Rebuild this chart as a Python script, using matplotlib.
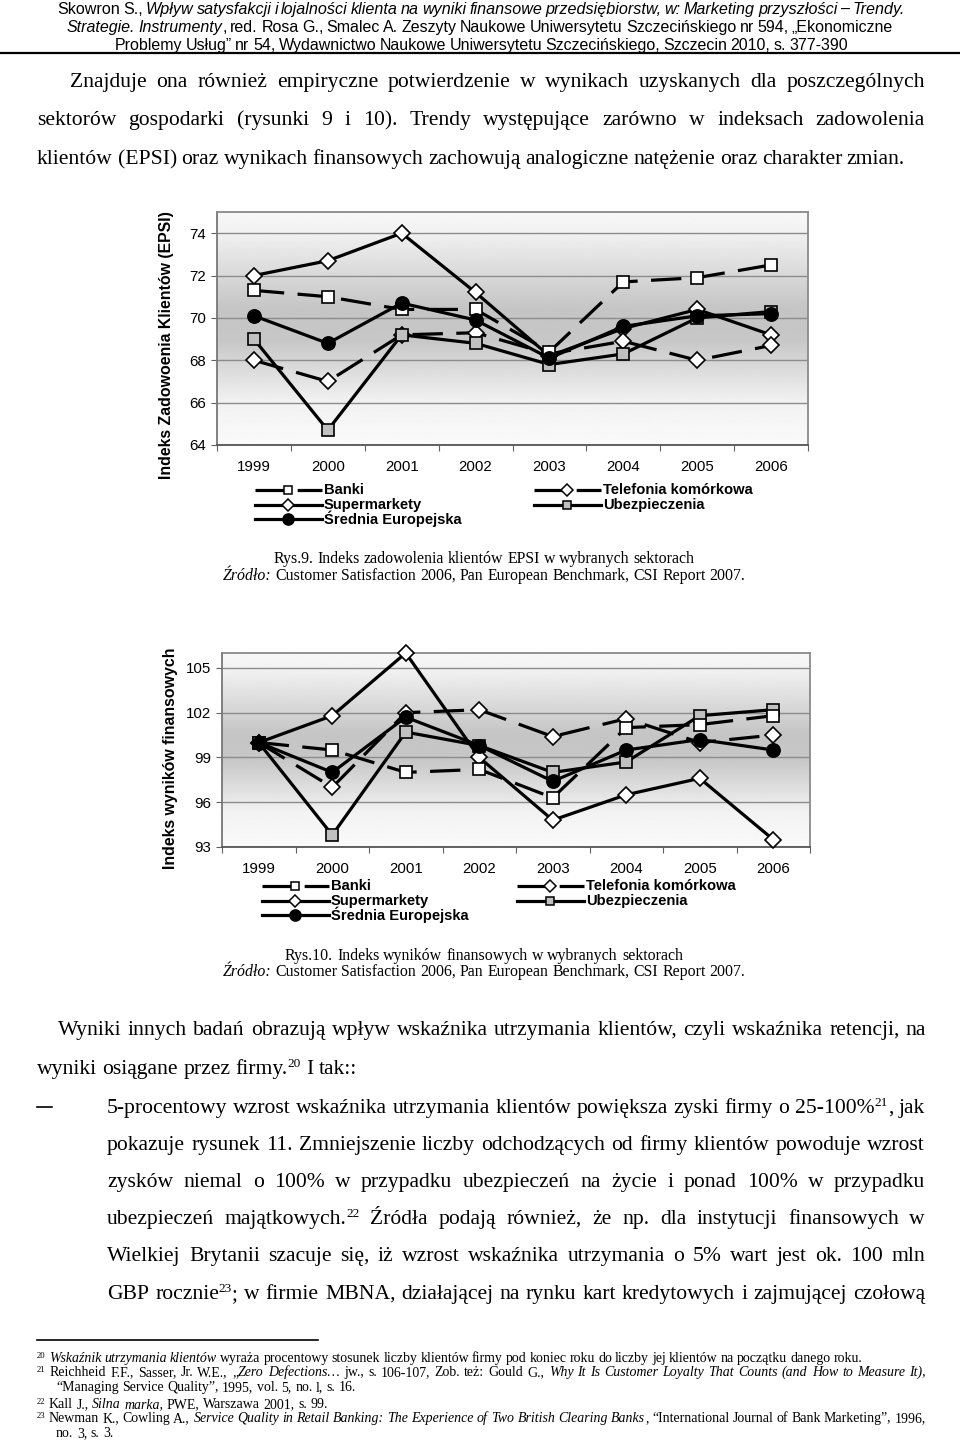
import re
import matplotlib
matplotlib.use('Agg')
import matplotlib.pyplot as plt
from matplotlib.lines import Line2D
import numpy as np

W, H = 960, 1448

years = ['1999', '2000', '2001', '2002', '2003', '2004', '2005', '2006']
names = ['Banki', 'Supermarkety', 'Średnia Europejska', 'Telefonia komórkowa', 'Ubezpieczenia']

# Rys. 9 - EPSI
epsi_banki = [71.3, 71.0, 70.4, 70.4, 68.4, 71.7, 71.9, 72.5]
epsi_super = [72.0, 72.7, 74.0, 71.2, 68.2, 69.5, 70.4, 69.2]
epsi_srednia = [70.1, 68.8, 70.7, 69.9, 68.1, 69.6, 70.1, 70.2]
epsi_telefonia = [68.0, 67.0, 69.2, 69.3, 68.3, 68.9, 68.0, 68.7]
epsi_ubezp = [69.0, 64.7, 69.2, 68.8, 67.8, 68.3, 70.0, 70.3]

# Rys. 10 - wyniki finansowe
fin_banki = [100.0, 99.5, 98.0, 98.2, 96.3, 101.0, 101.2, 101.8]
fin_super = [100.0, 101.8, 106.0, 99.0, 94.8, 96.5, 97.6, 93.5]
fin_srednia = [100.0, 98.0, 101.7, 99.8, 97.4, 99.5, 100.2, 99.5]
fin_telefonia = [100.0, 97.0, 102.0, 102.2, 100.4, 101.6, 100.0, 100.5]
fin_ubezp = [100.0, 93.8, 100.7, 99.8, 98.0, 98.7, 101.8, 102.2]

epsi_ticks = [64, 66, 68, 70, 72, 74]
fin_ticks = [93, 96, 99, 102, 105]

DASH = (9.5, 4.2)
styles = {
    'Banki': dict(marker='s', mfc='white', dashes=DASH),
    'Supermarkety': dict(marker='D', mfc='white', dashes=None),
    'Średnia Europejska': dict(marker='o', mfc='black', dashes=None),
    'Telefonia komórkowa': dict(marker='D', mfc='white', dashes=DASH),
    'Ubezpieczenia': dict(marker='s', mfc='#c0c0c0', dashes=None),
}

SANS = 'Liberation Sans'
SERIF = 'Liberation Serif'

fig = plt.figure(figsize=(W / 100, H / 100), dpi=100)
fig.patch.set_facecolor('white')
renderer = fig.canvas.get_renderer()


def fx(x):
    return x / W


def fy(y):
    return 1 - y / H


def add_ax(l, t, r, b):
    return fig.add_axes([fx(l), fy(b), (r - l) / W, (b - t) / H])


def parse(markup):
    segs = []
    for part in re.split(r'(\*[^*]*\*|\^[^^]*\^)', markup):
        if not part:
            continue
        if part[0] == '*':
            segs.append((part[1:-1], 'i'))
        elif part[0] == '^':
            segs.append((part[1:-1], 's'))
        else:
            segs.append((part, 'n'))
    tokens = [[]]
    for text, kind in segs:
        pieces = text.split(' ')
        for k, p in enumerate(pieces):
            if k > 0:
                tokens.append([])
            if p:
                tokens[-1].append((p, kind))
    return [t for t in tokens if t]


def make_tokens(tokens, size, family, weight):
    objs, widths = [], []
    for tok in tokens:
        row = []
        w = 0
        for s, kind in tok:
            fs = size * 0.62 if kind == 's' else size
            t = fig.text(0, 0, s, fontsize=fs, family=family, weight=weight,
                         style='italic' if kind == 'i' else 'normal',
                         va='baseline', ha='left')
            row.append((t, w, kind))
            w += t.get_window_extent(renderer).width
        objs.append(row)
        widths.append(w)
    return objs, widths


def text_line(markup, x, y, size, family=SERIF, right=None, center=None, weight='normal', mingap=4):
    # y is the baseline in pixels; right = justify to this x; center = centre on this x
    tokens = parse(markup)
    n = len(tokens)
    objs, widths = make_tokens(tokens, size, family, weight)
    if right is not None and sum(widths) + mingap * (n - 1) > right - x:
        for row in objs:
            for t, _, _ in row:
                t.remove()
        size *= (right - x - mingap * (n - 1)) / sum(widths)
        objs, widths = make_tokens(tokens, size, family, weight)
    a = fig.text(0, 0, 'x x', fontsize=size, family=family)
    b = fig.text(0, 0, 'xx', fontsize=size, family=family)
    space = a.get_window_extent(renderer).width - b.get_window_extent(renderer).width
    a.remove()
    b.remove()
    if right is not None and n > 1:
        space = (right - x - sum(widths)) / (n - 1)
    if center is not None:
        x = center - (sum(widths) + space * (n - 1)) / 2
    cx = x
    for row, w in zip(objs, widths):
        for t, off, kind in row:
            dy = -size * 0.45 if kind == 's' else 0
            t.set_position((fx(cx + off), fy(y + dy)))
        cx += w + space


# ---------------- header ----------------
hdr = 11.6
text_line('Skowron S., *Wpływ satysfakcji i lojalności klienta na wyniki finansowe przedsiębiorstw, w: Marketing przyszłości – Trendy.*',
          57, 14, hdr, SANS, right=905, mingap=3)
text_line('*Strategie. Instrumenty*, red. Rosa G., Smalec A. Zeszyty Naukowe Uniwersytetu Szczecińskiego nr 594, „Ekonomiczne',
          67, 32, hdr, SANS, right=893, mingap=3)
text_line('Problemy Usług” nr 54, Wydawnictwo Naukowe Uniwersytetu Szczecińskiego, Szczecin 2010, s. 377-390',
          115, 50, hdr, SANS, right=848, mingap=3)
fig.add_artist(Line2D([0, 1], [fy(53), fy(53)], color='black', lw=1.6, transform=fig.transFigure))

# ---------------- body 1 ----------------
body = 15.6
text_line('Znajduje ona również empiryczne potwierdzenie w wynikach uzyskanych dla poszczególnych', 70, 87, body, right=925)
text_line('sektorów gospodarki (rysunki 9 i 10). Trendy występujące zarówno w indeksach zadowolenia', 37, 125, body, right=925)
text_line('klientów (EPSI) oraz wynikach finansowych zachowują analogiczne natężenie oraz charakter zmian.', 37, 164, body, right=905)


# ---------------- charts ----------------
def draw_chart(ax, data, ylim, ticks):
    grad_t = [0.0, 0.08, 0.42, 0.55, 0.82, 1.0]
    grad_v = [0.97, 0.95, 0.77, 0.78, 0.95, 0.98]
    g = np.interp(np.linspace(0, 1, 256), grad_t, grad_v).reshape(-1, 1)
    ax.imshow(g, extent=[0, 1, 0, 1], transform=ax.transAxes, aspect='auto',
              cmap='gray', vmin=0, vmax=1, zorder=0, interpolation='bilinear')
    x = np.arange(len(years))
    for name, vals in data:
        st = styles[name]
        ln, = ax.plot(x, vals, color='black', lw=2.3, marker=st['marker'],
                      mfc=st['mfc'], mec='black', mew=1.2,
                      ms=9.5 if st['marker'] == 'o' else (7.8 if st['marker'] == 'D' else 8.2),
                      zorder=3, clip_on=False)
        if st['dashes']:
            ln.set_dashes(st['dashes'])
    ax.set_xlim(-0.5, len(years) - 0.5)
    ax.set_ylim(*ylim)
    ax.set_yticks(ticks)
    ax.set_yticklabels([str(t) for t in ticks], fontsize=10.8, family=SANS)
    ax.set_xticks(x)
    ax.set_xticklabels(years, fontsize=10.8, family=SANS)
    ax.set_xticks(np.arange(-0.5, len(years)), minor=True)
    ax.tick_params(axis='x', which='major', length=0, pad=11)
    ax.tick_params(axis='x', which='minor', length=4, width=0.8, color='#606060')
    ax.tick_params(axis='y', length=4, width=0.8, color='#606060', pad=4)
    ax.grid(axis='y', color='#8c8c8c', lw=1.0, zorder=1)
    ax.set_axisbelow(True)
    for s in ax.spines.values():
        s.set_color('#8a8a8a')
        s.set_linewidth(1.3)
    ax.spines['bottom'].set_color('#555555')
    ax.spines['left'].set_color('#777777')


def legend(x_left, x_right, y0, step):
    cols = [(x_left, names[:3]), (x_right, names[3:])]
    for x0, items in cols:
        for i, name in enumerate(items):
            st = styles[name]
            yy = fy(y0 + i * step)
            ln = Line2D([fx(x0), fx(x0 + 67)], [yy, yy], color='black', lw=2.3,
                        transform=fig.transFigure)
            if st['dashes']:
                ln.set_dashes((9.0, 4.2))
            fig.add_artist(ln)
            fig.add_artist(Line2D([fx(x0 + 33)], [yy], marker=st['marker'], mfc=st['mfc'],
                                  mec='black', mew=1.1,
                                  ms=8 if st['marker'] == 'o' else 6,
                                  transform=fig.transFigure))
            fig.text(fx(x0 + 69), yy, name, fontsize=10.6, family=SANS, weight='bold',
                     va='center', ha='left')


ax1 = add_ax(217, 212, 808, 445)
draw_chart(ax1, [('Supermarkety', epsi_super), ('Telefonia komórkowa', epsi_telefonia),
                 ('Ubezpieczenia', epsi_ubezp), ('Banki', epsi_banki),
                 ('Średnia Europejska', epsi_srednia)], (64, 75), epsi_ticks)
fig.text(fx(166), fy(345), 'Indeks Zadowoenia Klientów (EPSI)', rotation=90, fontsize=11.4,
         family=SANS, weight='bold', ha='center', va='center')
legend(255, 534, 490, 14.5)

cap = 11.4
text_line('Rys.9. Indeks zadowolenia klientów EPSI w wybranych sektorach', 0, 563, cap, center=484)
text_line('*Źródło:* Customer Satisfaction 2006, Pan European Benchmark, CSI Report 2007.', 0, 580, cap, center=484)

ax2 = add_ax(222, 653, 810, 847)
draw_chart(ax2, [('Supermarkety', fin_super), ('Telefonia komórkowa', fin_telefonia),
                 ('Ubezpieczenia', fin_ubezp), ('Banki', fin_banki),
                 ('Średnia Europejska', fin_srednia)], (93, 106), fin_ticks)
fig.text(fx(170), fy(758), 'Indeks wyników finansowych', rotation=90, fontsize=11.4,
         family=SANS, weight='bold', ha='center', va='center')
legend(262, 517, 886, 14.5)

text_line('Rys.10. Indeks wyników finansowych w wybranych sektorach', 0, 960, cap, center=484)
text_line('*Źródło:* Customer Satisfaction 2006, Pan European Benchmark, CSI Report 2007.', 0, 976, cap, center=484)

# ---------------- body 2 ----------------
text_line('Wyniki innych badań obrazują wpływ wskaźnika utrzymania klientów, czyli wskaźnika retencji, na', 58, 1035, body, right=926)
text_line('wyniki osiągane przez firmy.^20^ I tak::', 37, 1074, body)
fig.add_artist(Line2D([fx(37), fx(52)], [fy(1107), fy(1107)], color='black', lw=1.2, transform=fig.transFigure))
body2 = [
    ('5-procentowy wzrost wskaźnika utrzymania klientów powiększa zyski firmy o 25-100%^21^, jak', 1113),
    ('pokazuje rysunek 11. Zmniejszenie liczby odchodzących od firmy klientów powoduje wzrost', 1150),
    ('zysków niemal o 100% w przypadku ubezpieczeń na życie i ponad 100% w przypadku', 1187),
    ('ubezpieczeń majątkowych.^22^ Źródła podają również, że np. dla instytucji finansowych w', 1224),
    ('Wielkiej Brytanii szacuje się, iż wzrost wskaźnika utrzymania o 5% wart jest ok. 100 mln', 1261),
    ('GBP rocznie^23^; w firmie MBNA, działającej na rynku kart kredytowych i zajmującej czołową', 1299),
]
for line, yb in body2:
    text_line(line, 107, yb, body, right=925)

# ---------------- footnotes ----------------
fig.add_artist(Line2D([fx(37), fx(318)], [fy(1340), fy(1340)], color='black', lw=1.2, transform=fig.transFigure))
fn = 10.0
text_line('^20^ *Wskaźnik utrzymania klientów* wyraża procentowy stosunek liczby klientów firmy pod koniec roku do liczby jej klientów na początku danego roku.',
          37, 1362, fn, right=862, mingap=2.5)
text_line('^21^ Reichheid F.F., Sasser, Jr. W.E., „*Zero Defections…* jw., s. 106-107, Zob. też: Gould G., *Why It Is Customer Loyalty That Counts (and How to Measure It),*',
          37, 1376, fn, right=926, mingap=2.5)
text_line('“Managing Service Quality”, 1995, vol. 5, no. l, s. 16.', 56, 1391, fn)
text_line('^22^ Kall J., *Silna marka,* PWE, Warszawa 2001, s. 99.', 37, 1408, fn)
text_line('^23^ Newman K., Cowling A., *Service Quality in Retail Banking: The Experience of Two British Clearing Banks*, “International Journal of Bank Marketing”, 1996,',
          37, 1422, fn, right=926, mingap=2.5)
text_line('no. 3, s. 3.', 56, 1437, fn)

fig.savefig('out.png', dpi=100, facecolor='white')
